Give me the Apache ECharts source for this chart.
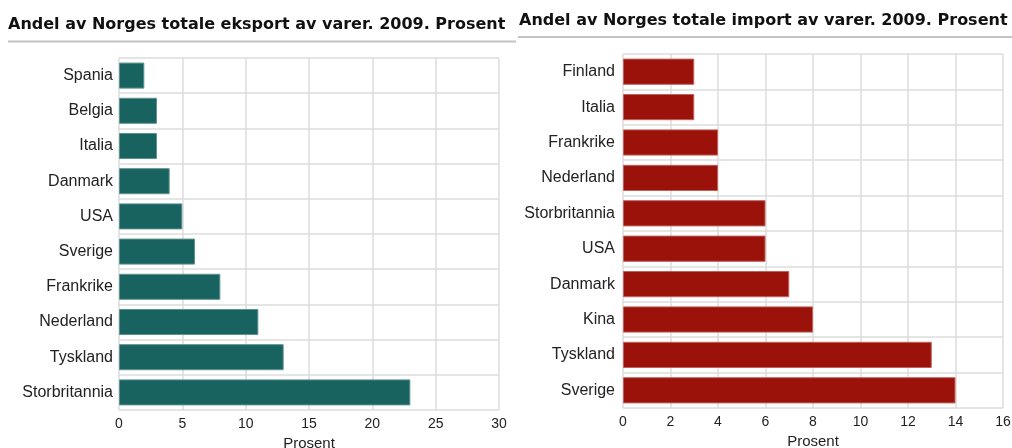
<!DOCTYPE html>
<html>
<head>
<meta charset="utf-8">
<script src="https://cdn.jsdelivr.net/npm/echarts@6/dist/echarts.min.js"></script>
<style>
  html, body { margin: 0; padding: 0; background: #fff; }
  #chart { width: 1012px; height: 448px; }
</style>
</head>
<body>
<div id="chart"></div>
<script>
// eksport (venstre)
const exportLand = ['Spania', 'Belgia', 'Italia', 'Danmark', 'USA', 'Sverige', 'Frankrike', 'Nederland', 'Tyskland', 'Storbritannia'];
const exportAndel = [2, 3, 3, 4, 5, 6, 8, 11, 13, 23];
// import (høyre)
const importLand = ['Finland', 'Italia', 'Frankrike', 'Nederland', 'Storbritannia', 'USA', 'Danmark', 'Kina', 'Tyskland', 'Sverige'];
const importAndel = [3, 3, 4, 4, 6, 6, 7, 8, 13, 14];

const titles = [
  'Andel av Norges totale eksport av varer. 2009. Prosent',
  'Andel av Norges totale import av varer. 2009. Prosent'
];

const chart = echarts.init(document.getElementById('chart'));

const gridLine = { show: true, lineStyle: { color: '#dddddd', width: 1.5 } };
const titleFont = { fontFamily: 'DejaVu Sans', fontWeight: 'bold', fontSize: 16, color: '#111' };

function valueAxis(idx, max, interval) {
  return {
    type: 'value', gridIndex: idx, min: 0, max: max, interval: interval,
    name: 'Prosent', nameLocation: 'middle', nameGap: 23,
    nameTextStyle: { fontFamily: 'Liberation Sans', fontSize: 15, color: '#222' },
    axisLine: { show: false }, axisTick: { show: false },
    axisLabel: { fontFamily: 'Liberation Sans', fontSize: 14, color: '#222', margin: 7 },
    splitLine: gridLine
  };
}
function catAxis(idx, data, margin) {
  return {
    type: 'category', gridIndex: idx, data: data, inverse: true,
    axisLine: { show: false }, axisTick: { show: false },
    axisLabel: { fontFamily: 'Liberation Sans', fontSize: 16, color: '#222', margin: margin },
    splitLine: gridLine
  };
}

chart.setOption({
  animation: false,
  title: [
    { text: titles[0], left: 8, top: 17, textStyle: titleFont, padding: 0 },
    { text: titles[1], left: 519, top: 13, textStyle: titleFont, padding: 0 }
  ],
  graphic: [
    { type: 'line', shape: { x1: 8, y1: 41.5, x2: 516, y2: 41.5 }, style: { stroke: '#c4c4c4', lineWidth: 2 } },
    { type: 'line', shape: { x1: 518, y1: 37, x2: 1012, y2: 37 }, style: { stroke: '#c4c4c4', lineWidth: 2 } }
  ],
  grid: [
    { left: 119, right: 513, top: 58, bottom: 38, outerBoundsMode: 'none' },
    { left: 623, right: 9, top: 54, bottom: 40, outerBoundsMode: 'none' }
  ],
  xAxis: [valueAxis(0, 30, 5), valueAxis(1, 16, 2)],
  yAxis: [catAxis(0, exportLand, 6), catAxis(1, importLand, 8)],
  series: [
    {
      type: 'bar', xAxisIndex: 0, yAxisIndex: 0, data: exportAndel,
      barCategoryGap: '26%',
      itemStyle: { color: '#18625f', borderColor: '#5e9391', borderWidth: 1 }
    },
    {
      type: 'bar', xAxisIndex: 1, yAxisIndex: 1, data: importAndel,
      barCategoryGap: '26%',
      itemStyle: { color: '#9a120a', borderColor: '#c0605a', borderWidth: 1 }
    }
  ]
});
</script>
</body>
</html>
